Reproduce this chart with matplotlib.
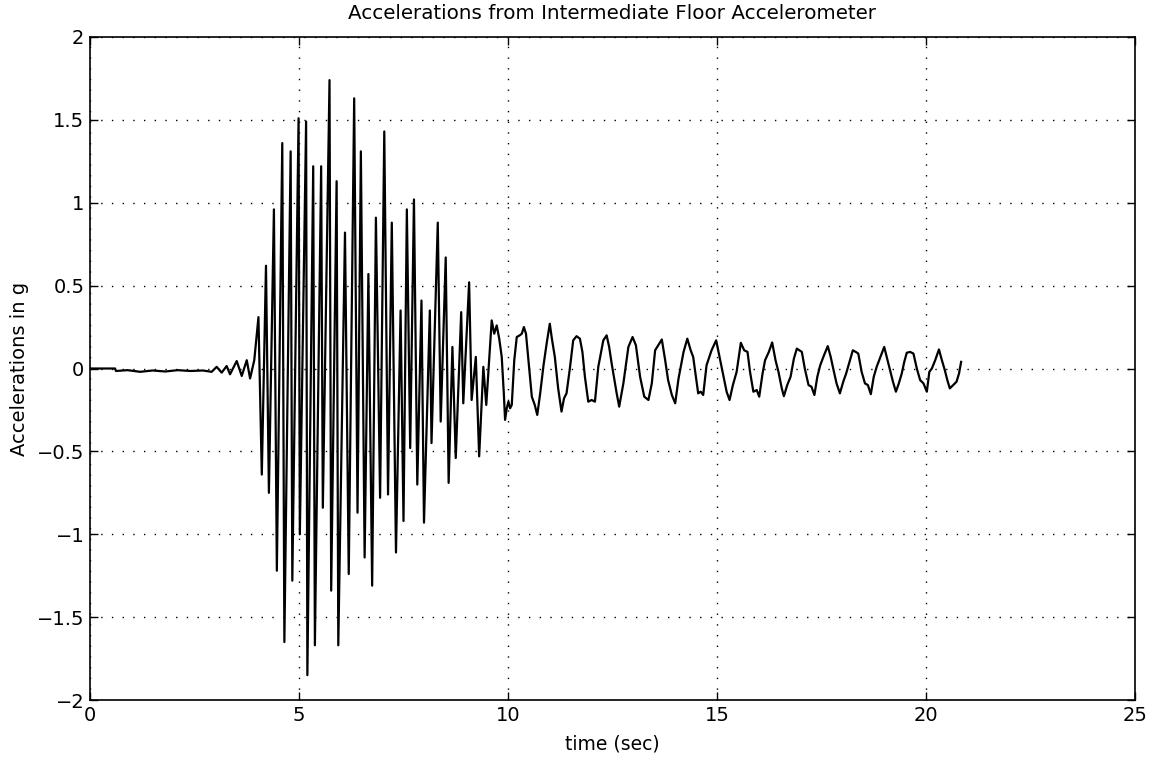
import numpy as np
import matplotlib
matplotlib.use("Agg")
import matplotlib.pyplot as plt
from matplotlib.ticker import FixedLocator, FixedFormatter

# ---- data (time in s, acceleration in g) ----
t_quiet = [0.0, 0.60, 0.62, 0.90, 1.20, 1.50, 1.80, 2.10, 2.40, 2.70,
           2.91, 3.03, 3.15, 3.27, 3.35, 3.51, 3.63, 3.75, 3.83, 3.93]
a_quiet = [0.0, 0.0, -0.015, -0.010, -0.020, -0.012, -0.018, -0.010, -0.015, -0.012,
           -0.020, 0.010, -0.025, 0.015, -0.035, 0.045, -0.045, 0.050, -0.060, 0.050]

t_strong = [4.03, 4.11, 4.21, 4.28, 4.40, 4.47, 4.60, 4.65, 4.80, 4.84,
            4.99, 5.02, 5.17, 5.20, 5.34, 5.38, 5.53, 5.57, 5.73, 5.77,
            5.90, 5.94, 6.10, 6.19, 6.32, 6.40, 6.48, 6.57, 6.66, 6.75,
            6.84, 6.94, 7.04, 7.13, 7.22, 7.32, 7.43, 7.50, 7.58, 7.66,
            7.75, 7.83, 7.93, 7.99, 8.13, 8.17, 8.32, 8.39, 8.51, 8.58,
            8.67, 8.75, 8.88, 8.93, 9.07, 9.13, 9.23, 9.31, 9.41, 9.48]
a_strong = [0.31, -0.64, 0.62, -0.75, 0.96, -1.22, 1.36, -1.65, 1.31, -1.28,
            1.51, -1.00, 1.49, -1.85, 1.22, -1.67, 1.22, -0.84, 1.74, -1.34,
            1.13, -1.67, 0.82, -1.24, 1.63, -0.87, 1.31, -1.14, 0.57, -1.31,
            0.91, -0.78, 1.43, -0.76, 0.88, -1.11, 0.35, -0.92, 0.96, -0.48,
            1.02, -0.70, 0.41, -0.93, 0.35, -0.45, 0.88, -0.32, 0.67, -0.69,
            0.13, -0.54, 0.34, -0.21, 0.52, -0.19, 0.07, -0.53, 0.01, -0.22]

t_free = [9.61, 9.67, 9.73, 9.79, 9.85, 9.90, 9.93, 9.97, 10.01, 10.05,
          10.09, 10.15, 10.21, 10.28, 10.33, 10.38, 10.43, 10.50, 10.57, 10.64,
          10.70, 10.77, 10.85, 10.93, 11.00, 11.05, 11.12, 11.20, 11.28, 11.34,
          11.40, 11.48, 11.56, 11.64, 11.72, 11.78, 11.84, 11.92, 12.00, 12.08,
          12.16, 12.28, 12.36, 12.42, 12.48, 12.60, 12.66, 12.76, 12.88, 12.98,
          13.06, 13.16, 13.26, 13.36, 13.44, 13.52, 13.57, 13.68, 13.76, 13.83,
          13.92, 14.00, 14.08, 14.20, 14.29, 14.37, 14.43, 14.55, 14.61, 14.67,
          14.75, 14.87, 14.98, 15.06, 15.14, 15.23, 15.30, 15.38, 15.47, 15.57,
          15.65, 15.73, 15.79, 15.87, 15.95, 16.01, 16.09, 16.15, 16.24, 16.32,
          16.40, 16.47, 16.55, 16.60, 16.68, 16.76, 16.84, 16.91, 16.97, 17.03,
          17.10, 17.19, 17.26, 17.33, 17.40, 17.47, 17.56, 17.65, 17.72, 17.78,
          17.86, 17.94, 18.02, 18.09, 18.17, 18.25, 18.32, 18.38, 18.46, 18.54,
          18.61, 18.68, 18.75, 18.82, 18.91, 19.00, 19.07, 19.14, 19.21, 19.28,
          19.35, 19.42, 19.48, 19.54, 19.62, 19.70, 19.78, 19.86, 19.94, 20.02,
          20.08, 20.14, 20.22, 20.31, 20.38, 20.45, 20.51, 20.57, 20.65, 20.73,
          20.79, 20.84]
a_free = [0.29, 0.21, 0.26, 0.18, 0.07, -0.15, -0.31, -0.24, -0.20, -0.24,
          -0.22, 0.05, 0.19, 0.20, 0.21, 0.25, 0.21, 0.02, -0.17, -0.22,
          -0.28, -0.15, 0.02, 0.16, 0.27, 0.18, 0.07, -0.12, -0.26, -0.18,
          -0.15, 0.00, 0.17, 0.195, 0.18, 0.10, -0.05, -0.20, -0.19, -0.20,
          0.01, 0.17, 0.20, 0.13, 0.03, -0.15, -0.23, -0.09, 0.13, 0.19,
          0.14, -0.05, -0.17, -0.19, -0.09, 0.11, 0.13, 0.175, 0.05, -0.07,
          -0.16, -0.21, -0.06, 0.10, 0.18, 0.11, 0.07, -0.15, -0.14, -0.16,
          0.02, 0.11, 0.17, 0.07, -0.03, -0.14, -0.19, -0.10, -0.02, 0.155,
          0.11, 0.10, -0.02, -0.14, -0.13, -0.17, -0.03, 0.05, 0.10, 0.157,
          0.05, -0.02, -0.12, -0.167, -0.10, -0.05, 0.06, 0.12, 0.11, 0.10,
          0.00, -0.10, -0.11, -0.16, -0.05, 0.02, 0.08, 0.135, 0.07, 0.00,
          -0.09, -0.15, -0.08, -0.03, 0.04, 0.11, 0.10, 0.09, -0.02, -0.09,
          -0.10, -0.155, -0.05, 0.01, 0.07, 0.13, 0.06, -0.01, -0.08, -0.14,
          -0.09, -0.03, 0.04, 0.095, 0.10, 0.09, 0.00, -0.07, -0.09, -0.14,
          -0.02, 0.00, 0.05, 0.115, 0.05, -0.01, -0.07, -0.12, -0.10, -0.08,
          -0.03, 0.04]

x_ticks = [0, 5, 10, 15, 20, 25]
x_labels = ["0", "5", "10", "15", "20", "25"]
y_ticks = [-2, -1.5, -1, -0.5, 0, 0.5, 1, 1.5, 2]
y_labels = ["\u22122", "\u22121.5", "\u22121", "\u22120.5", "0", "0.5", "1", "1.5", "2"]

title = "Accelerations from Intermediate Floor Accelerometer"
xlabel = "time (sec)"
ylabel = "Accelerations in g"

# ---- plot ----
plt.rcParams['font.family'] = ['DejaVu Sans']
fig = plt.figure(figsize=(11.55, 7.57), dpi=100)
ax = fig.add_axes([90 / 1155, 57 / 757, 1045 / 1155, 663 / 757])

t_all = np.concatenate([t_quiet, t_strong, t_free])
a_all = np.concatenate([a_quiet, a_strong, a_free])
ax.plot(t_all, a_all, color='black', lw=1.6, solid_joinstyle='round')

ax.set_xlim(0, 25)
ax.set_ylim(-2, 2)
ax.xaxis.set_major_locator(FixedLocator(x_ticks))
ax.xaxis.set_major_formatter(FixedFormatter(x_labels))
ax.yaxis.set_major_locator(FixedLocator(y_ticks))
ax.yaxis.set_major_formatter(FixedFormatter(y_labels))
ax.tick_params(direction='in', length=6, width=1.0, top=True, right=True,
               labelsize=14, pad=4, colors='black')
ax.grid(True, color='black', linestyle=(0, (1, 6.7)), linewidth=1.0)
for s in ax.spines.values():
    s.set_linewidth(1.2)
    s.set_color('black')

ax.set_title(title, fontsize=14.3, pad=13)
ax.set_xlabel(xlabel, fontsize=13.5, labelpad=7)
ax.set_ylabel(ylabel, fontsize=14, labelpad=6)

fig.savefig("out.png", dpi=100)
